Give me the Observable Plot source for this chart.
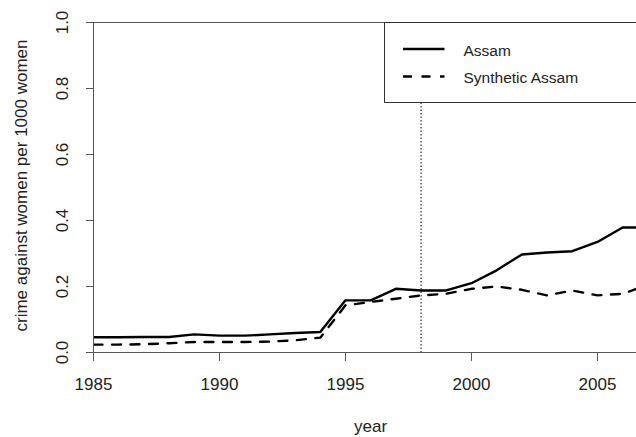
<!DOCTYPE html>
<html>
<head>
<meta charset="utf-8">
<script src="https://cdn.jsdelivr.net/npm/d3@7"></script>
<script src="https://cdn.jsdelivr.net/npm/@observablehq/plot@0.6"></script>
<style>
  html, body { margin: 0; padding: 0; background: #fff; overflow: hidden; }
  svg { display: block; }
</style>
</head>
<body>
<div id="chart"></div>
<script>
// Crime against women per 1000 women: Assam vs. its synthetic control
const years = [1985, 1986, 1987, 1988, 1989, 1990, 1991, 1992, 1993, 1994, 1995, 1996,
               1997, 1998, 1999, 2000, 2001, 2002, 2003, 2004, 2005, 2006, 2007];
const assam = [0.046, 0.046, 0.047, 0.047, 0.055, 0.051, 0.051, 0.055, 0.059, 0.062, 0.158, 0.158,
               0.193, 0.188, 0.188, 0.210, 0.249, 0.297, 0.303, 0.307, 0.335, 0.379, 0.379];
const synthetic = [0.024, 0.024, 0.025, 0.028, 0.032, 0.032, 0.032, 0.033, 0.037, 0.045, 0.143, 0.153,
                   0.163, 0.173, 0.178, 0.193, 0.200, 0.190, 0.173, 0.188, 0.173, 0.178, 0.205];
const treatmentYear = 1998;
const xTicks = [1985, 1990, 1995, 2000, 2005];
const yTicks = [0.0, 0.2, 0.4, 0.6, 0.8, 1.0];
const seriesNames = ["Assam", "Synthetic Assam"];

const rowsAssam = years.map((year, i) => ({year, value: assam[i]}));
const rowsSynth = years.map((year, i) => ({year, value: synthetic[i]}));

const font = "Liberation Sans, Arial, sans-serif";
const axisColor = "#555";
const textColor = "#222";
const dash = "9,9.5";

const W = 636, H = 437;
const margin = {left: 93, right: 0, top: 22, bottom: 85};

const chart = Plot.plot({
  width: W,
  height: H,
  marginLeft: margin.left,
  marginRight: margin.right,
  marginTop: margin.top,
  marginBottom: margin.bottom,
  style: {fontFamily: font, background: "#fff"},
  x: {domain: [1985, 2006.55], axis: null},
  y: {domain: [0, 1], axis: null},
  marks: [
    // treatment year
    Plot.ruleX([treatmentYear], {stroke: "#000", strokeWidth: 1, strokeDasharray: "1.5,2"}),
    // series
    Plot.line(rowsSynth, {x: "year", y: "value", stroke: "#000", strokeWidth: 2.4,
      strokeDasharray: dash, clip: true}),
    Plot.line(rowsAssam, {x: "year", y: "value", stroke: "#000", strokeWidth: 2.4, clip: true}),
    // box (left, bottom, top)
    Plot.ruleX([1985], {stroke: axisColor, strokeWidth: 1}),
    Plot.ruleY([0, 1], {stroke: axisColor, strokeWidth: 1}),
    // ticks
    Plot.axisX(xTicks, {tickSize: 9, tickFormat: () => "", stroke: axisColor, label: null}),
    Plot.axisY(yTicks, {tickSize: 7, tickFormat: () => "", stroke: axisColor, label: null}),
    // tick labels
    Plot.text(xTicks, {x: d => d, text: d => String(d), frameAnchor: "bottom", dy: 32,
      fontSize: 17, fill: textColor, lineAnchor: "middle", textAnchor: "middle"}),
    Plot.text(yTicks, {y: d => d, text: d => d.toFixed(1), frameAnchor: "left", dx: -30.5,
      rotate: -90, fontSize: 17, fill: textColor, lineAnchor: "middle", textAnchor: "middle"}),
    // axis titles
    Plot.text(["year"], {frameAnchor: "bottom", dy: 73.6, dx: 5.5, fontSize: 17,
      fill: textColor, lineAnchor: "middle", textAnchor: "middle"}),
    Plot.text(["crime against women per 1000 women"], {frameAnchor: "left", dx: -72, dy: -2,
      rotate: -90, fontSize: 17, fill: textColor, lineAnchor: "middle", textAnchor: "middle"})
  ]
});

// legend box in the top-right corner of the panel
const svg = d3.select(chart);
const lg = svg.append("g").attr("font-family", font).attr("text-anchor", "start");
lg.append("rect")
  .attr("x", 384.5).attr("y", margin.top + 0.5)
  .attr("width", 270).attr("height", 80)
  .attr("fill", "#fff").attr("stroke", "#333").attr("stroke-width", 1);
const entries = [
  {name: seriesNames[0], dasharray: null, y: 49},
  {name: seriesNames[1], dasharray: dash, y: 76.5}
];
for (const e of entries) {
  lg.append("line")
    .attr("x1", 403).attr("x2", 444.5).attr("y1", e.y).attr("y2", e.y)
    .attr("stroke", "#000").attr("stroke-width", 2.4)
    .attr("stroke-dasharray", e.dasharray);
  lg.append("text")
    .attr("x", 463.5).attr("y", e.y + 6.5)
    .attr("text-anchor", "start")
    .attr("font-size", 15.5).attr("fill", textColor)
    .text(e.name);
}

document.getElementById("chart").appendChild(chart);
</script>
</body>
</html>
